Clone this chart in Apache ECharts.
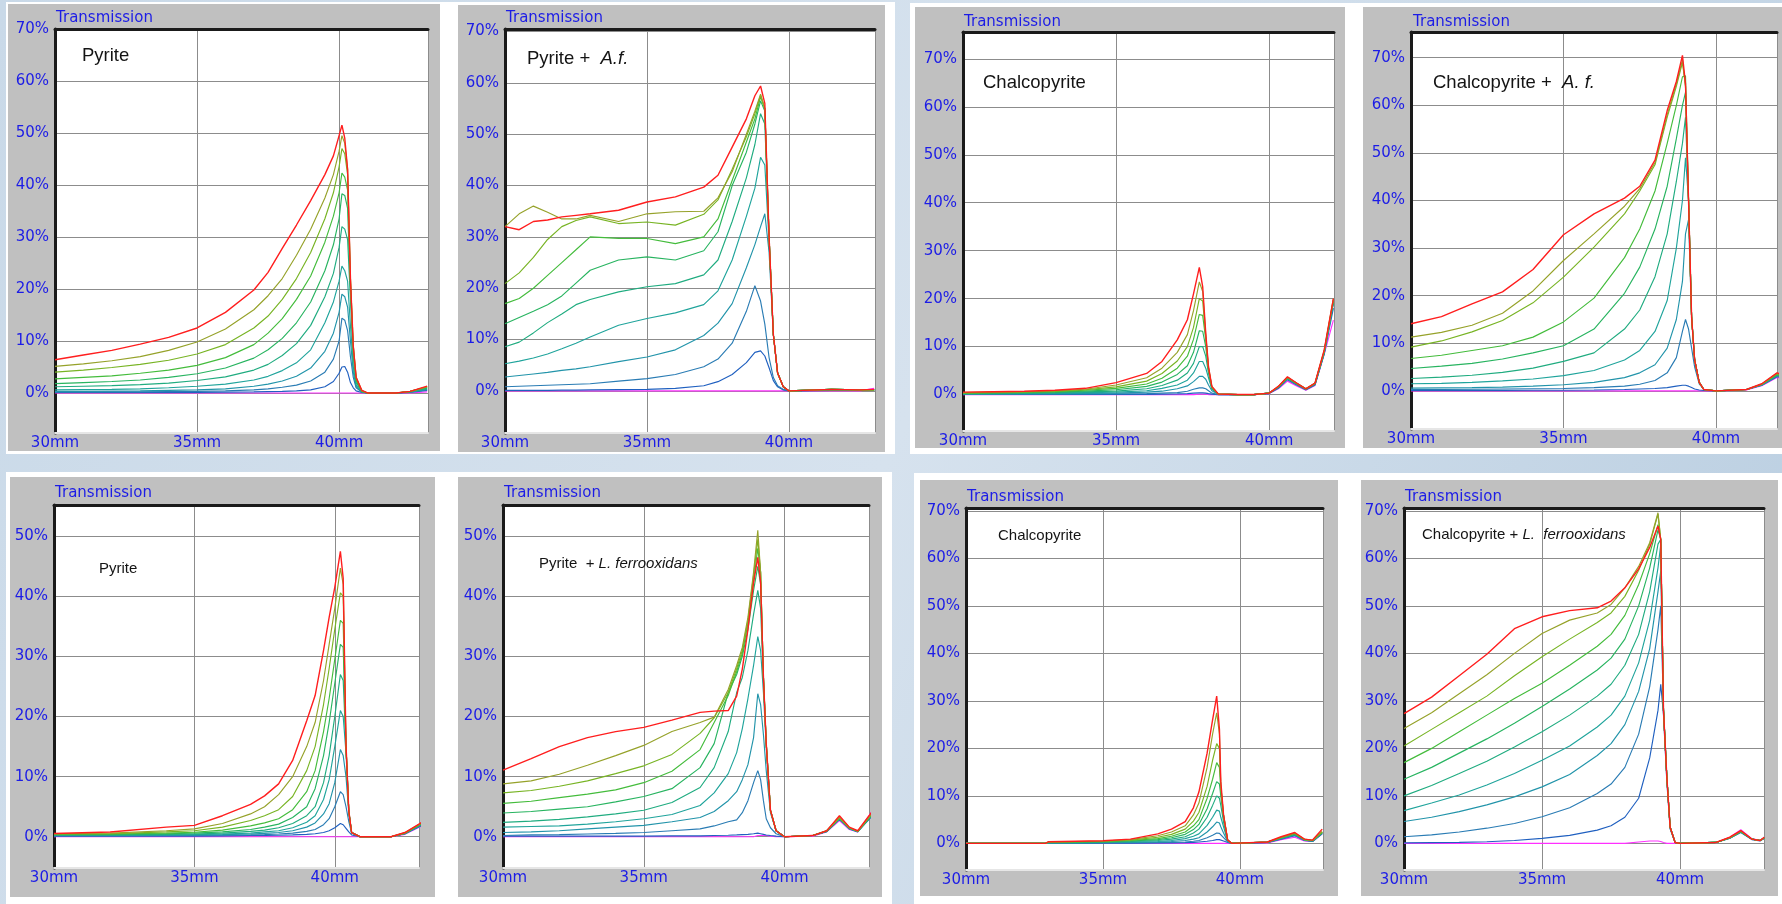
<!DOCTYPE html>
<html><head><meta charset="utf-8">
<script src="https://cdn.jsdelivr.net/npm/echarts@6/dist/echarts.min.js"></script>
<style>html,body{margin:0;padding:0;background:#fff;overflow:hidden}#c{width:1782px;height:904px}</style>
</head><body><div id="c"></div>
<script>
// ---------- tick labels ----------
const xLabelValues = [30, 35, 40];
const yLabels70 = [0, 10, 20, 30, 40, 50, 60, 70];
const yLabels50 = [0, 10, 20, 30, 40, 50];
const titleText = 'Transmission';
const panelNotes = [
  [['Pyrite', 0]],
  [['Pyrite +  ', 0], ['A.f.', 1]],
  [['Chalcopyrite', 0]],
  [['Chalcopyrite +  ', 0], ['A. f.', 1]],
  [['Pyrite', 0]],
  [['Pyrite  + ', 0], ['L. ferrooxidans', 1]],
  [['Chalcopyrite', 0]],
  [['Chalcopyrite + ', 0], ['L.  ferrooxidans', 1]]
];

// ---------- Panel 1: Pyrite ----------
const p1X   = [30,31,32,33,34,35,36,37,37.5,38,38.5,39,39.5,39.8,40,40.1,40.2,40.3,40.4,40.5,40.6,40.8,41,42,42.5,43.1];
const p1Red = [6.4,7.3,8.2,9.4,10.7,12.5,15.5,19.8,23.2,27.8,32.3,37,42,45.6,49.5,51.5,49,43,22,9,3,0.5,0,0,0.3,1.3];
const p1C8  = [5.1,5.6,6.2,7.0,8.2,9.8,12.3,16,18.7,22,26.5,31.5,37.5,42,46.5,49.5,48,43,22,9,3,0.5,0,0,0.3,1.2];
const p1C7  = [4.0,4.4,4.9,5.5,6.3,7.5,9.3,12.5,14.8,18,22,27,33.5,38.5,43.5,47,46,42,22,9,3,0.4,0,0,0.3,1.2];
const p1C6  = [2.7,3.0,3.3,3.8,4.4,5.3,6.8,9.3,11.5,14.3,18,22.5,29,34,38.5,42.3,41.5,39,21,8,2.5,0.3,0,0,0.3,1.1];
const p1C5  = [1.8,2.0,2.2,2.5,3.0,3.7,4.8,6.7,8.3,10.5,13.5,17.5,23.5,28.5,33.5,38.3,38,35.5,20,8,2.5,0.3,0,0,0.3,1.0];
const p1C4  = [1.2,1.3,1.4,1.6,1.9,2.4,3.1,4.4,5.5,7.2,9.5,13,18.5,23,28,32,31.5,29.5,18,7,2,0.3,0,0,0.2,0.9];
const p1C3  = [0.6,0.65,0.7,0.8,1.0,1.3,1.7,2.5,3.2,4.3,5.8,8.3,13.5,17.5,21.5,24.4,23.5,21.5,13,5,1.5,0.2,0,0,0.2,0.8];
const p1C2  = [0.3,0.3,0.35,0.4,0.5,0.6,0.8,1.3,1.7,2.3,3.2,4.8,8,11.5,15.5,19,18.5,16.5,10,4,1.2,0.2,0,0,0.2,0.7];
const p1C1  = [0.15,0.15,0.2,0.2,0.25,0.3,0.4,0.6,0.8,1.1,1.5,2.3,4,6.5,10,14.4,14,12,7,3,1,0.2,0,0,0.2,0.6];
const p1C0  = [0.1,0.1,0.1,0.1,0.1,0.1,0.15,0.2,0.25,0.3,0.4,0.6,1.2,2.2,3.8,5.0,5.1,4,2,1,0.4,0.1,0,0,0.1,0.5];
const p1Mag = [0,0,0,0,0,0,0,0,0,0,0,0,0,0,0,0,0,0,0,0,0,0,0,0,0,0.2];

// ---------- Panel 2: Pyrite + A.f. ----------
const p2X   = [30,30.5,31,31.5,32,32.5,33,34,35,36,37,37.5,38,38.5,38.8,39,39.15,39.3,39.45,39.6,39.8,40,41.5,42.5,43];
const p2Red = [32,31.4,33,33.3,33.9,34.2,34.5,35.2,36.8,37.8,39.7,42,47.5,53,57.5,59.4,56,30,11,3.5,0.8,0,0.3,0.2,0.3];
const p2C8  = [32,34.5,36,34.8,33.5,33.5,34.2,33,34.5,34.9,35,37.6,42.7,50,54.5,57.8,55,30,11,3.5,0.8,0,0.3,0.2,0.2];
const p2C7  = [20.9,23,26,29.5,32,33.2,33.9,32.6,32.9,32.3,34.4,37.2,43.2,49.5,54,57.6,55,30,11,3.5,0.8,0,0.3,0.2,0.2];
const p2C6  = [17,18,20,22.5,25,27.5,30,29.7,29.7,28.7,30,33.5,41,48.5,53,57.3,55,30,11,3.5,0.8,0,0.3,0.2,0.2];
const p2C5  = [13.1,14.3,15.5,16.8,18.5,21,23.5,25.5,26.1,25.5,27.3,31,40,46.5,52,56.5,54.5,30,11,3.5,0.8,0,0.3,0.2,0.2];
const p2C4  = [8.6,9.5,11.3,13.3,15,16.8,17.8,19.3,20.3,20.9,22.6,25.5,33,41.5,48,54,52,30,11,3.5,0.8,0,0.3,0.2,0.2];
const p2C3  = [5.3,5.8,6.4,7.2,8.2,9.3,10.5,12.8,14.1,15.2,16.8,19.5,25.5,34,39.5,45.5,44,29,11,3.5,0.8,0,0.3,0.2,0.2];
const p2C2  = [2.7,3.0,3.3,3.6,4.0,4.3,4.7,5.7,6.6,8,10.8,13.2,17,24,28.5,32,34.5,27,11,3.5,0.8,0,0.3,0.2,0.2];
const p2C1  = [0.8,0.9,1.0,1.1,1.2,1.3,1.4,1.9,2.4,3.2,4.7,6.2,9.3,15.5,20.5,17.5,13,6.5,2.6,1,0.3,0,0.2,0.2,0.2];
const p2C0  = [0.1,0.1,0.1,0.1,0.15,0.15,0.2,0.25,0.3,0.5,1.0,1.8,3.2,5.5,7.5,7.8,6.8,4.5,2,0.8,0.2,0,0.1,0.1,0.1];
const p2Mag = [0,0,0,0,0,0,0,0,0,0,0,0,0,0,0,0,0,0,0,0,0,0,0,0,0.5];

// ---------- Panel 3: Chalcopyrite ----------
const p3X   = [30,31,32,33,34,35,36,36.5,37,37.33,37.53,37.72,37.83,37.93,38.02,38.13,38.34,39,39.5,40,40.3,40.6,40.9,41.2,41.5,41.8,42.1];
const p3Red = [0.5,0.6,0.7,0.9,1.3,2.5,4.4,6.9,11.4,15.6,21,26.5,22.5,12.8,5.8,1.7,0.1,0,0,0.3,1.7,3.7,2.4,1.2,2.4,9.3,20];
const p3C8  = [0.4,0.5,0.6,0.8,1.1,2.0,3.5,5.5,8.8,12.5,17.5,23.5,21.5,12.5,5.6,1.6,0.1,0,0,0.3,1.7,3.6,2.4,1.2,2.4,9.2,20];
const p3C7  = [0.35,0.45,0.55,0.7,1.0,1.6,2.8,4.4,7,10,14,20,19.5,12,5.5,1.6,0.1,0,0,0.3,1.6,3.6,2.3,1.2,2.3,9,19.8];
const p3C6  = [0.3,0.4,0.5,0.6,0.9,1.3,2.2,3.4,5.5,8,11.5,16.7,16.5,11.5,5.3,1.5,0.1,0,0,0.3,1.6,3.5,2.3,1.2,2.3,9,19.6];
const p3C5  = [0.25,0.3,0.4,0.5,0.7,1.0,1.7,2.6,4.2,6,8.8,13.3,13.2,10,5,1.4,0.1,0,0,0.3,1.6,3.5,2.3,1.1,2.3,8.9,19.5];
const p3C4  = [0.2,0.25,0.3,0.4,0.55,0.7,1.2,1.9,3,4.5,6.5,10,10,8,4.5,1.3,0.1,0,0,0.3,1.5,3.4,2.2,1.1,2.2,8.8,19.4];
const p3C3  = [0.15,0.2,0.25,0.3,0.4,0.5,0.8,1.3,2,3,4.5,6.9,6.9,5.5,3.5,1.1,0.1,0,0,0.3,1.5,3.4,2.2,1.1,2.2,8.8,19.3];
const p3C2  = [0.1,0.1,0.15,0.2,0.25,0.3,0.5,0.7,1.2,1.8,2.7,3.8,3.8,3.2,2,0.8,0.05,0,0,0.3,1.5,3.3,2.2,1.1,2.2,8.7,19.2];
const p3C1  = [0.05,0.05,0.1,0.1,0.1,0.15,0.2,0.3,0.4,0.7,1.1,1.4,1.4,1.2,0.8,0.3,0,0,0,0.3,1.4,3.2,2.1,1.0,2.1,8.6,19];
const p3C0  = [0.02,0.02,0.02,0.02,0.03,0.05,0.05,0.1,0.15,0.2,0.3,0.35,0.35,0.3,0.2,0.1,0,0,0,0.2,1.3,3.1,2.0,1.0,2.0,8.5,18];
const p3Mag = [0,0,0,0,0,0,0,0,0,0,0,0.1,0.1,0.1,0,0,0,0,0,0.2,1.2,2.8,1.8,0.9,1.9,8.4,15.5];

// ---------- Panel 4: Chalcopyrite + A. f. ----------
const p4X   = [30,31,32,33,34,35,36,37,37.5,38,38.4,38.7,38.9,39,39.1,39.2,39.3,39.45,39.6,40,41,41.5,42,42.1];
const p4Red = [14.1,15.6,18.3,20.8,25.5,32.8,37.2,40.5,43,48.5,58.9,65,70.5,64.5,40,15.5,6.5,1.8,0.3,0,0.3,1.5,3.8,3.6];
const p4C8  = [11.3,12.3,13.8,16.3,21,27.4,33,38.8,42.5,48,58,64.5,69.5,64,40,15.5,6.5,1.8,0.3,0,0.3,1.4,3.7,3.5];
const p4C7  = [9.2,10.5,12.4,14.8,18.5,23.9,30.2,37.2,42,47.5,57.5,64,69,64,40,15.5,6.5,1.8,0.3,0,0.3,1.4,3.6,3.4];
const p4C6  = [6.8,7.5,8.5,9.5,11.3,14.5,19.5,28,34,42,52,60,66,66.2,40,15.5,6.5,1.8,0.3,0,0.3,1.4,3.5,3.3];
const p4C5  = [4.7,5.2,5.8,6.7,8,9.5,13,20.5,26,34,43,53,60,62.7,40,15.5,6.5,1.8,0.3,0,0.3,1.4,3.4,3.2];
const p4C4  = [2.6,2.9,3.3,3.9,4.8,6.2,8,13,17,24,33,44,52,57.5,40,15.5,6.5,1.8,0.3,0,0.3,1.3,3.3,3.1];
const p4C3  = [1.5,1.6,1.8,2.1,2.5,3.2,4.3,6.5,8.5,12.5,19,30,40,49,40,15.5,6.5,1.8,0.3,0,0.3,1.3,3.3,3.1];
const p4C2  = [0.6,0.65,0.7,0.8,1.0,1.3,1.8,2.8,3.8,5.5,9,15,23,33,36,15.5,6.5,1.8,0.3,0,0.3,1.3,3.2,3];
const p4C1  = [0.3,0.3,0.35,0.4,0.45,0.5,0.7,1.0,1.4,2.2,3.8,7,12.5,15,13,9,5,1.5,0.3,0,0.3,1.2,3.1,3];
const p4C0  = [0.1,0.1,0.1,0.1,0.15,0.15,0.2,0.3,0.4,0.5,0.7,1,1.2,1.2,1,0.7,0.4,0.2,0.1,0,0.3,1.2,3,2.9];
const p4Mag = [0,0,0,0,0,0,0,0,0,0,0,0,0,0,0,0,0,0,0,0,0.2,1.1,2.8,2.8];

// ---------- Panel 5: Pyrite ----------
const p5X   = [30,32,34,35,36,37,37.5,38,38.5,39,39.3,39.6,39.8,40,40.2,40.3,40.4,40.5,40.6,40.9,42,42.5,43.1];
const p5Red = [0.55,0.8,1.6,1.9,3.5,5.4,6.8,8.8,12.7,19.3,23.5,31,36.5,41.5,47.5,43,15.4,4.3,0.7,0,0,0.7,2.4];
const p5C8  = [0.5,0.6,1.0,1.3,2.2,3.8,5,7,10,15,19,26,32,38,44.7,42,15,4.2,0.7,0,0,0.7,2.3];
const p5C7  = [0.45,0.5,0.8,1.0,1.6,2.7,3.5,4.5,6.7,11,15,22,28,34.5,40.6,40,15,4.2,0.7,0,0,0.6,2.3];
const p5C6  = [0.4,0.45,0.6,0.75,1.1,1.8,2.3,3.0,4.5,7.5,11,17.5,23,29.5,36,35.5,15,4.2,0.7,0,0,0.6,2.2];
const p5C5  = [0.35,0.4,0.5,0.6,0.8,1.2,1.6,2.1,3.2,5.0,8,13.5,19,25.5,32,31.5,15,4.2,0.7,0,0,0.6,2.2];
const p5C4  = [0.3,0.3,0.4,0.45,0.6,0.9,1.1,1.5,2.2,3.5,5,9,13.5,20,27,26,15,4.2,0.7,0,0,0.6,2.1];
const p5C3  = [0.25,0.25,0.3,0.35,0.45,0.6,0.8,1.0,1.5,2.4,3.5,6.2,9.5,15,21,20,14,4.2,0.7,0,0,0.6,2.1];
const p5C2  = [0.2,0.2,0.25,0.3,0.35,0.45,0.55,0.7,1.0,1.6,2.3,3.8,5.5,9,14.5,13.5,10,4,0.7,0,0,0.5,2];
const p5C1  = [0.15,0.15,0.2,0.2,0.25,0.3,0.35,0.45,0.6,0.9,1.2,2,3,5,7.5,7,5,2.5,0.6,0,0,0.5,2];
const p5C0  = [0.1,0.1,0.1,0.1,0.15,0.2,0.2,0.25,0.3,0.4,0.5,0.7,1.0,1.5,2.2,2.0,1.4,0.8,0.3,0,0,0.5,1.9];
const p5Mag = [0,0,0,0,0,0,0,0,0,0,0,0,0,0,0,0,0,0,0,0,0,0.4,1.8];

// ---------- Panel 6: Pyrite + L. ferrooxidans ----------
const p6X   = [30,31,32,33,34,35,36,37,37.5,38,38.3,38.5,38.7,38.9,39.05,39.15,39.25,39.35,39.5,39.7,40,41,41.5,41.95,42.3,42.6,43.1];
const p6Red = [11.1,13,15,16.5,17.5,18.2,19.4,20.7,20.9,21,23.4,27.9,34.5,42.3,46.5,42.3,26.6,15.5,4.4,1,0,0.2,1,3.5,1.6,1,4.1];
const p6C8  = [8.8,9.3,10.4,11.9,13.5,15.2,17.5,19,19.9,24.5,28.5,31.5,36.5,44,51,44,26.6,15.5,4.4,1,0,0.2,1,3.2,1.5,0.9,3.8];
const p6C7  = [7.3,7.7,8.4,9.3,10.5,11.8,13.7,17.2,19.8,24,28,31,36,43.5,49.5,44,26.6,15.5,4.4,1,0,0.2,1,3.2,1.5,0.9,3.8];
const p6C6  = [5.55,5.9,6.5,7.1,7.8,9,10.9,14.5,19,23.5,27.5,30.5,35.5,42.5,48,44,26.6,15.5,4.4,1,0,0.2,1,3.1,1.5,0.9,3.7];
const p6C5  = [3.95,4.2,4.6,5,5.8,6.7,8,11.5,15.5,24,27,30,34.5,41,45,42,26.6,15.5,4.4,1,0,0.2,1,3.1,1.5,0.9,3.7];
const p6C4  = [2.4,2.6,2.9,3.3,3.8,4.4,5.7,8.2,11.5,17.5,24,26.5,31,37,41,38,26,15.5,4.4,1,0,0.2,0.9,3,1.4,0.9,3.6];
const p6C3  = [1.6,1.7,1.8,2.1,2.5,3.0,3.7,5.2,7.3,10.5,14,18,23,28.5,33.3,31,24,15,4.4,1,0,0.2,0.9,3,1.4,0.9,3.6];
const p6C2  = [0.7,0.8,1.0,1.3,1.6,1.9,2.5,3.2,4.2,6,7.5,9.5,12,16.5,23.8,22,17,11,4,1,0,0.2,0.9,3,1.4,0.9,3.5];
const p6C1  = [0.2,0.3,0.35,0.45,0.55,0.7,1.0,1.3,1.8,2.5,2.8,4,6,9,11,9.5,6,3,1.5,0.5,0,0.2,0.9,2.9,1.4,0.9,3.5];
const p6C0  = [0.1,0.1,0.1,0.1,0.1,0.1,0.15,0.15,0.2,0.25,0.3,0.35,0.4,0.5,0.6,0.5,0.4,0.3,0.2,0.1,0,0.2,0.9,2.9,1.3,0.8,3.4];
const p6Mag = [0,0,0,0,0,0,0,0,0,0,0,0,0,0,0.2,0.2,0.2,0.2,0.1,0,0,0.1,0.8,2.7,1.2,0.8,4.2];

// ---------- Panel 7: Chalcopyrite ----------
const p7X   = [30,32.9,33,34,35,36,37,37.5,38,38.3,38.5,38.8,39,39.15,39.25,39.3,39.4,39.55,39.7,41,41.5,42,42.35,42.65,43];
const p7Red = [0,0,0.35,0.45,0.55,0.9,2.0,3.0,4.6,7.5,10.8,19,26,31,24,13,6,0.7,0,0.3,1.4,2.3,0.9,0.7,3];
const p7C8  = [0,0,0.3,0.4,0.5,0.8,1.6,2.4,3.7,6,8.5,16,23,27.5,23,12,6,0.7,0,0.3,1.3,2.2,0.9,0.6,2.5];
const p7C7  = [0,0,0.25,0.35,0.45,0.7,1.3,1.9,3.0,4.7,6.5,12,17.5,21,20,12,6,0.7,0,0.3,1.2,2.1,0.8,0.6,2.4];
const p7C6  = [0,0,0.2,0.3,0.4,0.6,1.0,1.5,2.4,3.7,5,9.5,13.5,17,16,11,5.8,0.7,0,0.3,1.2,2.1,0.8,0.6,2.4];
const p7C5  = [0,0,0.2,0.25,0.3,0.5,0.8,1.2,1.9,2.9,4,7.3,10.5,13,12.5,10,5.5,0.7,0,0.3,1.2,2,0.8,0.6,2.3];
const p7C4  = [0,0,0.15,0.2,0.25,0.4,0.6,0.9,1.4,2.2,3,5.5,8,10,9.5,8,4.5,0.6,0,0.3,1.1,2,0.8,0.5,2.3];
const p7C3  = [0,0,0.1,0.15,0.2,0.3,0.4,0.6,1.0,1.5,2,3.8,5.5,7,6.8,5.5,3.5,0.5,0,0.3,1.1,1.9,0.7,0.5,2.2];
const p7C2  = [0,0,0.1,0.1,0.15,0.2,0.3,0.4,0.6,0.9,1.2,2.4,3.5,4.5,4.3,3.5,2.2,0.4,0,0.2,1.0,1.8,0.7,0.5,2.2];
const p7C1  = [0,0,0.05,0.05,0.1,0.1,0.15,0.2,0.3,0.45,0.6,1.2,1.7,2.2,2.1,1.8,1.2,0.3,0,0.2,1.0,1.7,0.7,0.5,2.1];
const p7C0  = [0,0,0,0,0.05,0.05,0.1,0.1,0.15,0.2,0.3,0.45,0.6,0.8,0.8,0.7,0.5,0.2,0,0.2,0.9,1.6,0.6,0.4,2];
const p7Mag = [0,0,0,0,0,0,0,0,0,0,0,0,0,0,0,0,0,0,0,0.1,0.8,1.3,0.5,0.4,2];

// ---------- Panel 8: Chalcopyrite + L. ferrooxidans ----------
const p8X   = [30,31,32,33,34,35,36,37,37.5,38,38.5,38.9,39.2,39.3,39.4,39.52,39.64,39.82,40,41.3,41.8,42.2,42.6,42.9,43.05];
const p8Red = [27.3,30.8,35.3,39.8,45.2,47.7,49,49.6,51,53.8,57.8,62.3,66.8,64,28,14,3.4,0.2,0,0.2,1.3,2.7,0.9,0.6,1.3];
const p8C8  = [24.2,27.5,31.5,35.5,40,44.2,47,48.5,50.3,53.8,58.3,63.3,69.6,64,28,14,3.4,0.2,0,0.2,1.2,2.6,0.9,0.6,1.2];
const p8C7  = [20.5,24,27.5,31,35.3,39.3,43,46.5,48.5,52,57.5,63,69.3,64,28,14,3.4,0.2,0,0.2,1.2,2.6,0.9,0.6,1.2];
const p8C6  = [17,20,23.5,27,30.5,33.7,37.5,41.5,44,48,54.5,61,67.1,64,28,14,3.4,0.2,0,0.2,1.2,2.5,0.9,0.6,1.2];
const p8C5  = [13.5,16,19,22,25.3,28.8,32.5,36.5,39,43,50,58,66,64,28,14,3.4,0.2,0,0.2,1.2,2.5,0.9,0.6,1.2];
const p8C4  = [10,12.2,14.7,17.3,20.3,23.5,27,31,33.5,37.5,44,53,63,64,28,14,3.4,0.2,0,0.2,1.2,2.5,0.9,0.6,1.2];
const p8C3  = [6.9,8.5,10.2,12.3,14.7,17.5,20.5,24.5,27,31,38,47,58,62.9,28,14,3.4,0.2,0,0.2,1.2,2.4,0.9,0.6,1.1];
const p8C2  = [4.6,5.5,6.7,8.1,9.8,11.9,14.5,18.5,21,25,32,41,53,57.3,28,14,3.4,0.2,0,0.2,1.1,2.4,0.9,0.6,1.1];
const p8C1  = [1.4,1.8,2.4,3.2,4.2,5.6,7.5,10.5,12.5,16,23,33,45,50,28,14,3.4,0.2,0,0.2,1.1,2.4,0.9,0.6,1.1];
const p8C0  = [0.1,0.15,0.2,0.35,0.6,1.05,1.7,2.8,3.7,5.5,9.5,18,28,33.5,27,13,3,0.2,0,0.2,1.1,2.3,0.8,0.5,1.1];
const p8Mag = [0,0,0,0,0,0,0,0,0,0,0.3,0.5,0.5,0.4,0.2,0,0,0,0,0.2,1.3,2.9,1,0.6,1.3];

// ---------- styles & layout (not data) ----------
const seriesColors = ['#ff30ff','#2060c0','#2a7cb4','#2294aa','#20a49c','#20ac80','#28b460','#44bc3c','#78b424','#96a22a','#ff1e1e'];
const blue = '#1c1ce6';
const panelData = [
  {x: p1X, ys: [p1Mag,p1C0,p1C1,p1C2,p1C3,p1C4,p1C5,p1C6,p1C7,p1C8,p1Red]},
  {x: p2X, ys: [p2Mag,p2C0,p2C1,p2C2,p2C3,p2C4,p2C5,p2C6,p2C7,p2C8,p2Red]},
  {x: p3X, ys: [p3Mag,p3C0,p3C1,p3C2,p3C3,p3C4,p3C5,p3C6,p3C7,p3C8,p3Red]},
  {x: p4X, ys: [p4Mag,p4C0,p4C1,p4C2,p4C3,p4C4,p4C5,p4C6,p4C7,p4C8,p4Red]},
  {x: p5X, ys: [p5Mag,p5C0,p5C1,p5C2,p5C3,p5C4,p5C5,p5C6,p5C7,p5C8,p5Red]},
  {x: p6X, ys: [p6Mag,p6C0,p6C1,p6C2,p6C3,p6C4,p6C5,p6C6,p6C7,p6C8,p6Red]},
  {x: p7X, ys: [p7Mag,p7C0,p7C1,p7C2,p7C3,p7C4,p7C5,p7C6,p7C7,p7C8,p7Red]},
  {x: p8X, ys: [p8Mag,p8C0,p8C1,p8C2,p8C3,p8C4,p8C5,p8C6,p8C7,p8C8,p8Red]}
];
const panelLayout = [
  {frame:[8,4,432,447],   grid:[55,29,373,404],   xMax:43.13, yMin:-7.7, yMax:70,   yLab:yLabels70, ttl:[56,18],   note:[82,56,18.5]},
  {frame:[458,5,427,447], grid:[505,29,370,404],  xMax:43.03, yMin:-8.2, yMax:70.5, yLab:yLabels70, ttl:[506,18],  note:[527,59,18.5]},
  {frame:[915,7,430,441], grid:[963,32,371,399],  xMax:42.12, yMin:-7.6, yMax:75.6, yLab:yLabels70, ttl:[964,22],  note:[983,83,18.5]},
  {frame:[1363,7,419,441],grid:[1411,32,366,397], xMax:42.0,  yMin:-8.0, yMax:75.4, yLab:yLabels70, ttl:[1413,22], note:[1433,83,18.5]},
  {frame:[10,477,425,420],grid:[54,505,365,363],  xMax:43.0,  yMin:-5.2, yMax:55.2, yLab:yLabels50, ttl:[55,493],  note:[99,569,15]},
  {frame:[458,477,424,420],grid:[503,505,366,363],xMax:43.0,  yMin:-5.2, yMax:55.2, yLab:yLabels50, ttl:[504,493], note:[539,564,15]},
  {frame:[920,480,418,416],grid:[966,508,357,362],xMax:43.03, yMin:-5.6, yMax:70.6, yLab:yLabels70, ttl:[967,497], note:[998,536,15]},
  {frame:[1361,480,417,416],grid:[1404,508,360,362],xMax:43.04,yMin:-5.6,yMax:70.6, yLab:yLabels70, ttl:[1405,497],note:[1422,535,15]}
];
const backings = [[6,2,889,452],[910,3,872,451],[6,472,886,432],[914,473,868,431]];

panelData.forEach((p,i)=>p.ys.forEach((y,k)=>{ if (y.length!==p.x.length) console.warn('len mismatch panel',i+1,'series',k,y.length,p.x.length); }));

const grids = [], xAxes = [], xTop = [], yAxes = [], series = [], elements = [];
backings.forEach(b => elements.push({type:'rect', z:-5, z2:1, silent:true, shape:{x:b[0],y:b[1],width:b[2],height:b[3]}, style:{fill:'#ffffff'}}));
panelLayout.forEach((L, i) => {
  const f = L.frame, g = L.grid;
  elements.push({type:'rect', z:-5, z2:2, silent:true, shape:{x:f[0],y:f[1],width:f[2],height:f[3]}, style:{fill:'#c0c0c0'}});
  elements.push({type:'rect', z:-5, z2:3, silent:true, shape:{x:g[0],y:g[1],width:g[2],height:g[3]}, style:{fill:'#ffffff'}});
  elements.push({type:'text', z:10, silent:true, x:L.ttl[0], y:L.ttl[1],
    style:{text:titleText, fill:blue, fontSize:15, fontFamily:'DejaVu Sans', verticalAlign:'middle', align:'left'}});
  const parts = panelNotes[i];
  const s = L.note[2];
  elements.push({type:'text', z:10, silent:true, x:L.note[0], y:L.note[1],
    style:{text: parts.map(pt => '{' + (pt[1] ? 'i' : 'n') + '|' + pt[0] + '}').join(''),
      verticalAlign:'middle', align:'left',
      rich:{ n:{fontSize:s, fontFamily:'Liberation Sans', fill:'#141414'},
             i:{fontSize:s, fontFamily:'Liberation Sans', fontStyle:'italic', fill:'#141414'} }}});
  grids.push({left:g[0], top:g[1], width:g[2], height:g[3], containLabel:false, show:false});
  xAxes.push({gridIndex:i, type:'value', min:30, max:L.xMax, position:'bottom',
    axisLine:{show:true, onZero:false, lineStyle:{color:'#e6e6e6', width:2}},
    axisTick:{show:false, customValues:[30,35,40,L.xMax]},
    axisLabel:{show:true, customValues:xLabelValues, formatter:v => v + 'mm', color:blue, fontSize:15, fontFamily:'DejaVu Sans', margin:3},
    splitLine:{show:true, lineStyle:{color:'#8c8c8c', width:1}}});
  xTop.push({gridIndex:i, type:'value', min:30, max:L.xMax, position:'top',
    axisLine:{show:true, onZero:false, lineStyle:{color:'#1a1a1a', width:3}},
    axisTick:{show:false}, axisLabel:{show:false}, splitLine:{show:false}});
  yAxes.push({gridIndex:i, type:'value', min:L.yMin, max:L.yMax, position:'left',
    axisLine:{show:true, onZero:false, lineStyle:{color:'#1a1a1a', width:3}},
    axisTick:{show:false, customValues:L.yLab},
    axisLabel:{show:true, customValues:L.yLab, formatter:v => v + '%', color:blue, fontSize:15, fontFamily:'DejaVu Sans', margin:6},
    splitLine:{show:true, lineStyle:{color:'#8c8c8c', width:1}}});
  const P = panelData[i];
  P.ys.forEach((ys, k) => {
    series.push({type:'line', xAxisIndex:i, yAxisIndex:i, symbol:'none', showSymbol:false, silent:true,
      animation:false, z:3, clip:true,
      lineStyle:{color:seriesColors[k], width: k === 10 ? 1.4 : 1.15},
      data: P.x.map((xv, j) => [xv, ys[j]])});
  });
});

const chart = echarts.init(document.getElementById('c'), null, {renderer:'canvas'});
chart.setOption({
  animation:false,
  backgroundColor: new echarts.graphic.LinearGradient(0,0,1,1,[{offset:0,color:'#c9d9e8'},{offset:0.5,color:'#d6e2ee'},{offset:1,color:'#b8cde0'}]),
  grid: grids,
  xAxis: xAxes.concat(xTop),
  yAxis: yAxes,
  graphic: {elements: elements},
  series: series
});
</script>
</body></html>
